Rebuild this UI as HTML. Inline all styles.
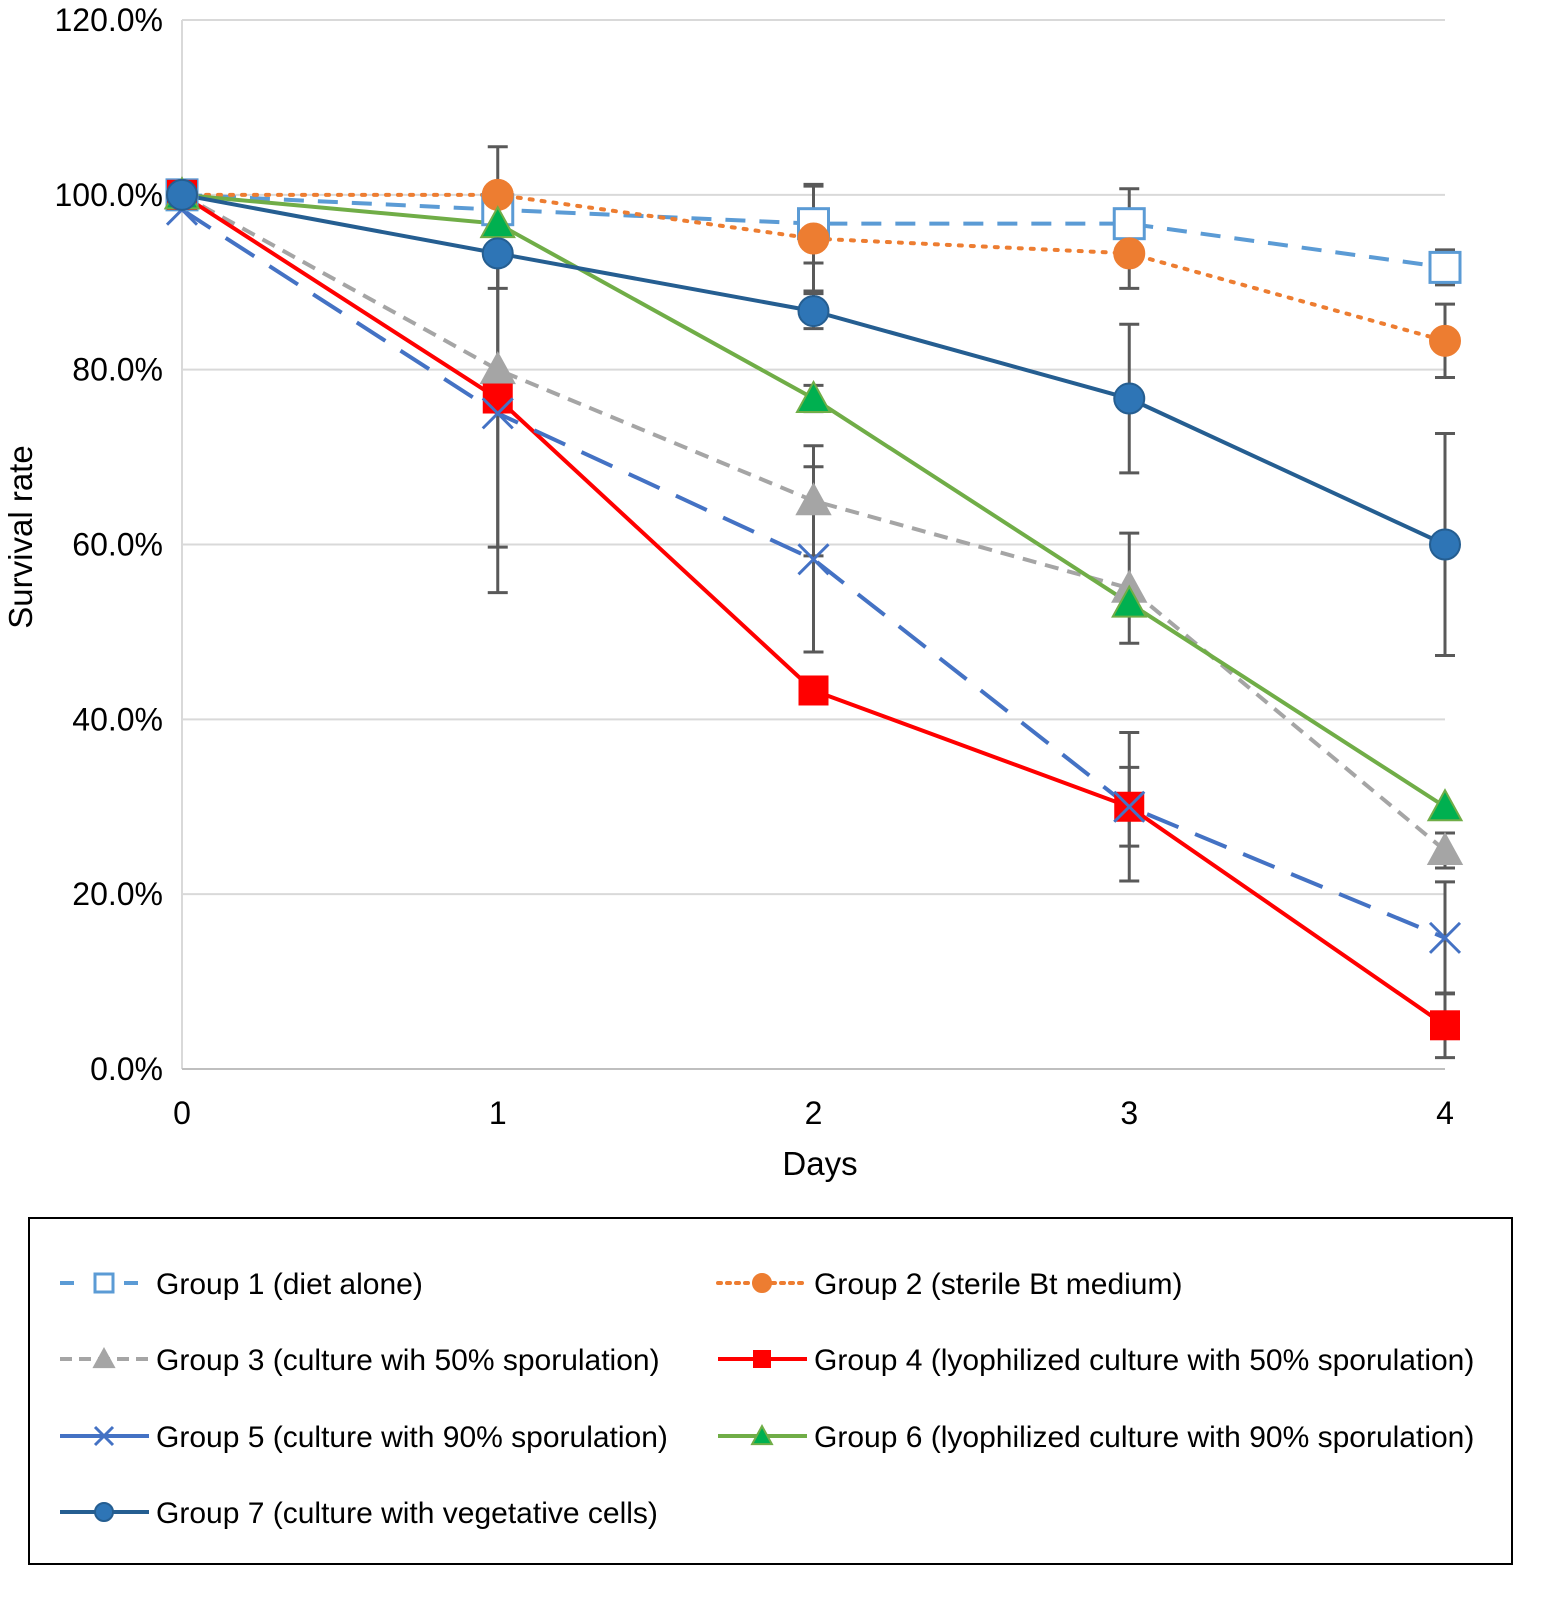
<!DOCTYPE html>
<html><head><meta charset="utf-8"><style>
body{margin:0;background:#fff;}
svg{display:block;font-family:"Liberation Sans",Arial,sans-serif;}
</style></head><body>
<svg id="chart" width="1548" height="1601" viewBox="0 0 1548 1601"></svg>
<script>
const days = [0, 1, 2, 3, 4];
const yTicks = [0, 20, 40, 60, 80, 100, 120];
const yTickLabels = ["0.0%", "20.0%", "40.0%", "60.0%", "80.0%", "100.0%", "120.0%"];
const g1 = [100, 98.3, 96.7, 96.7, 91.7];
const g2 = [100, 100, 95, 93.3, 83.3];
const g3 = [100, 80, 65, 55, 25];
const g4 = [100, 76.7, 43.3, 30, 5];
const g5 = [98.3, 75, 58.3, 30, 15];
const g6 = [100, 96.7, 76.7, 53.3, 30];
const g7 = [100, 93.3, 86.7, 76.7, 60];
const e1 = [0, 0, 4.5, 4, 2];
const e2 = [0, 5.5, 6, 4, 4.2];
const e3 = [0, 0, 6.3, 6.3, 2];
const e4 = [0, 17, 0, 8.5, 3.7];
const e5 = [0, 20.5, 10.6, 4.5, 6.4];
const e6 = [0, 0, 1.5, 0, 0];
const e7 = [1.5, 4, 2, 8.5, 12.7];
const names = ["Group 1 (diet alone)","Group 2 (sterile Bt medium)","Group 3 (culture wih 50% sporulation)","Group 4 (lyophilized culture with 50% sporulation)","Group 5 (culture with 90% sporulation)","Group 6 (lyophilized culture with 90% sporulation)","Group 7 (culture with vegetative cells)"];

const NS="http://www.w3.org/2000/svg";
const svg=document.getElementById('chart');
const X0=182,X1=1445,Y0=1069,Y1=20;
const xs=d=>X0+(X1-X0)*d/4;
const ys=v=>Y0-(Y0-Y1)*v/120;
function mk(tag,attrs,parent){const e=document.createElementNS(NS,tag);for(const k in attrs)e.setAttribute(k,attrs[k]);(parent||svg).appendChild(e);return e;}

yTicks.forEach((t,i)=>{
  if(t>0){const g=mk('line',{x1:X0,x2:X1,y1:ys(t),y2:ys(t),stroke:'#d9d9d9','stroke-width':2});
  
  }
  const tx=mk('text',{x:163,y:ys(t)+11,'text-anchor':'end','font-size':32,fill:'#000'});
  tx.textContent=yTickLabels[i];
  
  
});
const ax=mk('line',{x1:X0,x2:X0,y1:Y1,y2:Y0,stroke:'#d9d9d9','stroke-width':2});


const bx=mk('line',{x1:X0,x2:X1,y1:Y0,y2:Y0,stroke:'#bfbfbf','stroke-width':2});


days.forEach(d=>{
  const t=mk('text',{x:xs(d),y:1124,'text-anchor':'middle','font-size':32});
  t.textContent=d;
  
  
});
const xt=mk('text',{x:820,y:1175,'text-anchor':'middle','font-size':33});
xt.textContent='Days';


const yt=mk('text',{x:0,y:0,'text-anchor':'middle','font-size':33,transform:'translate(32,537) rotate(-90)'});
yt.textContent='Survival rate';



const series=[
 {v:g1,e:e1,c:'#5b9bd5',w:4,dash:'20,14',ld:'14,18',m:'sq-open',mc:'#5b9bd5'},
 {v:g2,e:e2,c:'#ed7d31',w:4,dash:'3,9',ld:'3,6',cap:'round',m:'circle',mc:'#ed7d31'},
 {v:g3,e:e3,c:'#a5a5a5',w:4,dash:'14,9',ld:'12,7',m:'tri',mc:'#a5a5a5'},
 {v:g4,e:e4,c:'#ff0000',w:4,dash:'',ld:'',m:'sq',mc:'#ff0000'},
 {v:g5,e:e5,c:'#4472c4',w:4,dash:'34,18',ld:'',m:'x',mc:'#4472c4'},
 {v:g6,e:e6,c:'#70ad47',w:4,dash:'',ld:'',m:'tri',mc:'#00b050'},
 {v:g7,e:e7,c:'#255e91',w:4,dash:'',ld:'',m:'circle',mc:'#2e75b6'}
];
function marker(s,x,y,size,parent){
  const r=size;
  let el;
  if(s.m==='sq-open') el=mk('rect',{x:x-r,y:y-r,width:2*r,height:2*r,fill:'#fff',stroke:s.mc,'stroke-width':3},parent);
  else if(s.m==='sq') el=mk('rect',{x:x-r,y:y-r,width:2*r,height:2*r,fill:s.mc},parent);
  else if(s.m==='circle') el=mk('circle',{cx:x,cy:y,r:r,fill:s.mc,stroke:s.c==='#255e91'?'#255e91':s.mc,'stroke-width':2},parent);
  else if(s.m==='tri') el=mk('polygon',{points:`${x},${y-r*1.1} ${x+r*1.1},${y+r*0.9} ${x-r*1.1},${y+r*0.9}`,fill:s.mc,stroke:s.c,'stroke-width':2},parent);
  else el=mk('path',{d:`M${x-r},${y-r}L${x+r},${y+r}M${x-r},${y+r}L${x+r},${y-r}`,stroke:s.mc,'stroke-width':3,fill:'none'},parent);
  return el;
}
series.forEach((s,si)=>{
  s.v.forEach((v,i)=>{
    const err=s.e[i]; if(!err) return;
    const x=xs(days[i]);
    const g=mk('path',{d:`M${x},${ys(v+err)}V${ys(v-err)}M${x-10},${ys(v+err)}H${x+10}M${x-10},${ys(v-err)}H${x+10}`,stroke:'#595959','stroke-width':3,fill:'none'});
    
    
  });
});
series.forEach((s,si)=>{
  const d=s.v.map((v,i)=>(i?'L':'M')+xs(days[i])+','+ys(v)).join('');
  const p=mk('path',{d:d,fill:'none',stroke:s.c,'stroke-width':s.w,'stroke-dasharray':s.dash,'stroke-linecap':s.cap||'butt'});
  
  
});
series.forEach((s,si)=>{
  s.v.forEach((v,i)=>{
    const m=marker(s,xs(days[i]),ys(v),15);
    
    
  });
});
const lb=mk('rect',{x:29,y:1218,width:1483,height:346,fill:'none',stroke:'#000','stroke-width':2});


const pos=[[60,1283],[718,1283],[60,1359],[718,1359],[60,1436],[718,1436],[60,1512]];
series.forEach((s,si)=>{
  const [lx,ly]=pos[si];
  const g=mk('g',{});
  
  
  mk('line',{x1:lx,x2:lx+89,y1:ly,y2:ly,stroke:s.c,'stroke-width':4,'stroke-dasharray':s.ld,'stroke-linecap':s.cap||'butt'},g);
  if(s.m==='sq-open'){mk('rect',{x:lx+30,y:ly-15,width:30,height:30,fill:'#fff'},g);}
  marker(s,lx+44,ly,9,g);
  const t=mk('text',{x:lx+96,y:ly+11,'font-size':30},g);
  t.textContent=names[si];
});
</script>
</body></html>
